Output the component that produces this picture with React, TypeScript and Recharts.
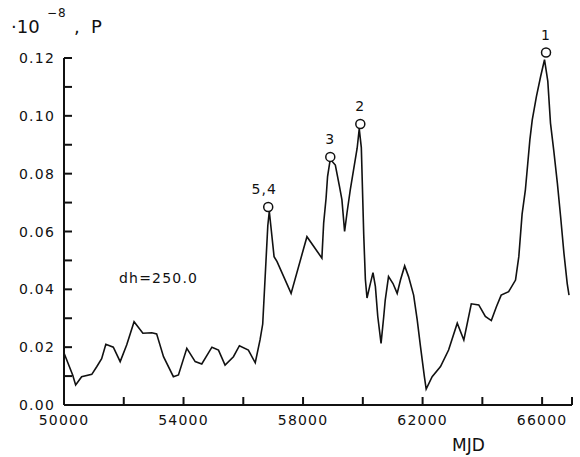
import { LineChart, Line, XAxis, YAxis, ReferenceDot } from 'recharts'

// MJD of each vertex of the periodogram curve
const mjd = [
  50000, 50290, 50390, 50590, 50930, 51100, 51260, 51400, 51650, 51880,
  52100, 52345, 52640, 52940, 53100, 53330, 53660, 53830, 54110, 54390,
  54610, 54950, 55170, 55390, 55670, 55870, 56170, 56400, 56560, 56650,
  56760, 56820, 56870, 57030, 57130, 57600, 58130, 58630, 58690, 58770,
  58820, 58910, 59080, 59220, 59300, 59390, 59470, 59580, 59690, 59810,
  59880, 59950, 60030, 60085, 60140, 60230, 60340, 60420, 60500, 60610,
  60700, 60750, 60860, 61010, 61150, 61260, 61400, 61530, 61700, 61820,
  61930, 62060, 62120, 62320, 62600, 62870, 63160, 63380, 63630, 63880,
  64100, 64300, 64470, 64630, 64880, 65110, 65220, 65330, 65440, 65520,
  65590, 65670, 65810, 65950, 66080, 66190, 66280, 66390, 66510, 66620,
  66730, 66840, 66900,
]

// power, units of 1e-8
const power = [
  0.018, 0.0104, 0.0069, 0.0098, 0.0106, 0.0133, 0.016, 0.021, 0.02, 0.015,
  0.0208, 0.0288, 0.0248, 0.025, 0.0246, 0.0167, 0.0098, 0.0104, 0.0196, 0.015,
  0.0142, 0.02, 0.019, 0.0138, 0.0167, 0.0205, 0.019, 0.0146, 0.0225, 0.028,
  0.05, 0.062, 0.067, 0.0513, 0.0496, 0.0386, 0.0582, 0.0508, 0.063, 0.0715,
  0.079, 0.085, 0.083, 0.0755, 0.071, 0.06, 0.0664, 0.0744, 0.0813, 0.0888,
  0.0955, 0.089, 0.059, 0.0435, 0.037, 0.041, 0.0458, 0.041, 0.0306, 0.0213,
  0.0306, 0.0363, 0.0444, 0.042, 0.0386, 0.0432, 0.0481, 0.0444, 0.038, 0.0294,
  0.0202, 0.0098, 0.0055, 0.0098, 0.0133, 0.019, 0.0283, 0.0225, 0.035, 0.0346,
  0.0306, 0.0292, 0.034, 0.038, 0.0392, 0.0432, 0.0513, 0.066, 0.0744, 0.0836,
  0.0917, 0.0986, 0.1067, 0.1136, 0.1194, 0.112, 0.0975, 0.088, 0.0767, 0.065,
  0.0525, 0.042, 0.038,
]

// marked peaks
const peakLabels = ['5,4', '3', '2', '1']
const peakMjd = [56834, 58911, 59916, 66131]
const peakPower = [0.0685, 0.0858, 0.0972, 0.1219]

const xTicks = [50000, 52000, 54000, 56000, 58000, 60000, 62000, 64000, 66000, 67000]
const xLabeled = [50000, 54000, 58000, 62000, 66000]
const yTicks = [0, 0.01, 0.02, 0.03, 0.04, 0.05, 0.06, 0.07, 0.08, 0.09, 0.1, 0.11, 0.12]

const data = mjd.map((m, i) => ({ mjd: m, p: power[i] }))

const font = '"DejaVu Sans", sans-serif'
const ink = '#111'

function XTick(props: any) {
  const { x, y, payload } = props
  const v = payload.value
  if (!xLabeled.includes(v)) return <g />
  return (
    <text x={x} y={y + 20} textAnchor="middle" fontSize={14} fontFamily={font} fill={ink} letterSpacing={1.2}>
      {v}
    </text>
  )
}

function YTick(props: any) {
  const { x, y, payload } = props
  const v = payload.value
  if (Math.round(v * 100) % 2 !== 0) return <g />
  return (
    <text x={x - 9} y={y + 5} textAnchor="end" fontSize={14} fontFamily={font} fill={ink} letterSpacing={1.2}>
      {v.toFixed(2)}
    </text>
  )
}

// inward tick marks, drawn at the scaled tick position
function TickUp(p: any) {
  return <path d={`M${p.cx},${p.cy} v-8`} stroke={ink} strokeWidth={2} fill="none" />
}
function TickRight(p: any) {
  return <path d={`M${p.cx},${p.cy} h8`} stroke={ink} strokeWidth={2} fill="none" />
}

function PeakMark(p: any) {
  const lab = p.lab as string
  return (
    <g>
      <circle cx={p.cx} cy={p.cy} r={4.5} fill="#fff" stroke={ink} strokeWidth={1.5} />
      <text
        x={lab === '5,4' ? p.cx - 4 : p.cx}
        y={p.cy - 13}
        textAnchor="middle"
        fontSize={14}
        fontFamily={font}
        fill={ink}
        letterSpacing={1}
      >
        {lab}
      </text>
    </g>
  )
}

const txt = (left: number, top: number, size: number, extra: any = {}) => ({
  position: 'absolute' as const,
  left,
  top,
  fontSize: size,
  fontFamily: font,
  color: ink,
  lineHeight: 1,
  whiteSpace: 'nowrap' as const,
  ...extra,
})

export default function App() {
  return (
    <div style={{ position: 'absolute', left: 0, top: 0, width: 580, height: 457, background: '#fff' }}>
      <LineChart width={580} height={457} data={data} margin={{ top: 58, right: 8, bottom: 22, left: 8 }}>
        <XAxis
          dataKey="mjd"
          type="number"
          domain={[50000, 67000]}
          ticks={xTicks}
          interval={0}
          height={30}
          tickSize={0}
          tickMargin={0}
          tickLine={false}
          stroke={ink}
          strokeWidth={2}
          tick={<XTick />}
        />
        <YAxis
          type="number"
          domain={[0, 0.12]}
          allowDataOverflow
          ticks={yTicks}
          interval={0}
          width={56}
          tickSize={0}
          tickMargin={0}
          tickLine={false}
          stroke={ink}
          strokeWidth={2}
          tick={<YTick />}
        />
        {xTicks.map((t) => (
          <ReferenceDot key={'xt' + t} x={t} y={0} ifOverflow="visible" shape={(p: any) => <TickUp {...p} />} />
        ))}
        {yTicks.map((t) => (
          <ReferenceDot key={'yt' + t} x={50000} y={t} ifOverflow="visible" shape={(p: any) => <TickRight {...p} />} />
        ))}
        <Line
          dataKey="p"
          type="linear"
          stroke={ink}
          strokeWidth={1.6}
          dot={false}
          activeDot={false}
          isAnimationActive={false}
        />
        {peakLabels.map((lab, i) => (
          <ReferenceDot
            key={lab}
            x={peakMjd[i]}
            y={peakPower[i]}
            ifOverflow="visible"
            shape={(p: any) => <PeakMark {...p} lab={lab} />}
          />
        ))}
      </LineChart>
      <div style={txt(11, 18, 18)}>·10</div>
      <div style={txt(47, 7, 12, { letterSpacing: 1 })}>−8</div>
      <div style={txt(74, 18, 18)}>,</div>
      <div style={txt(91, 18, 18)}>P</div>
      <div style={txt(119, 271, 14, { letterSpacing: 1.2 })}>dh=250.0</div>
      <div style={txt(452, 437, 17)}>MJD</div>
    </div>
  )
}
